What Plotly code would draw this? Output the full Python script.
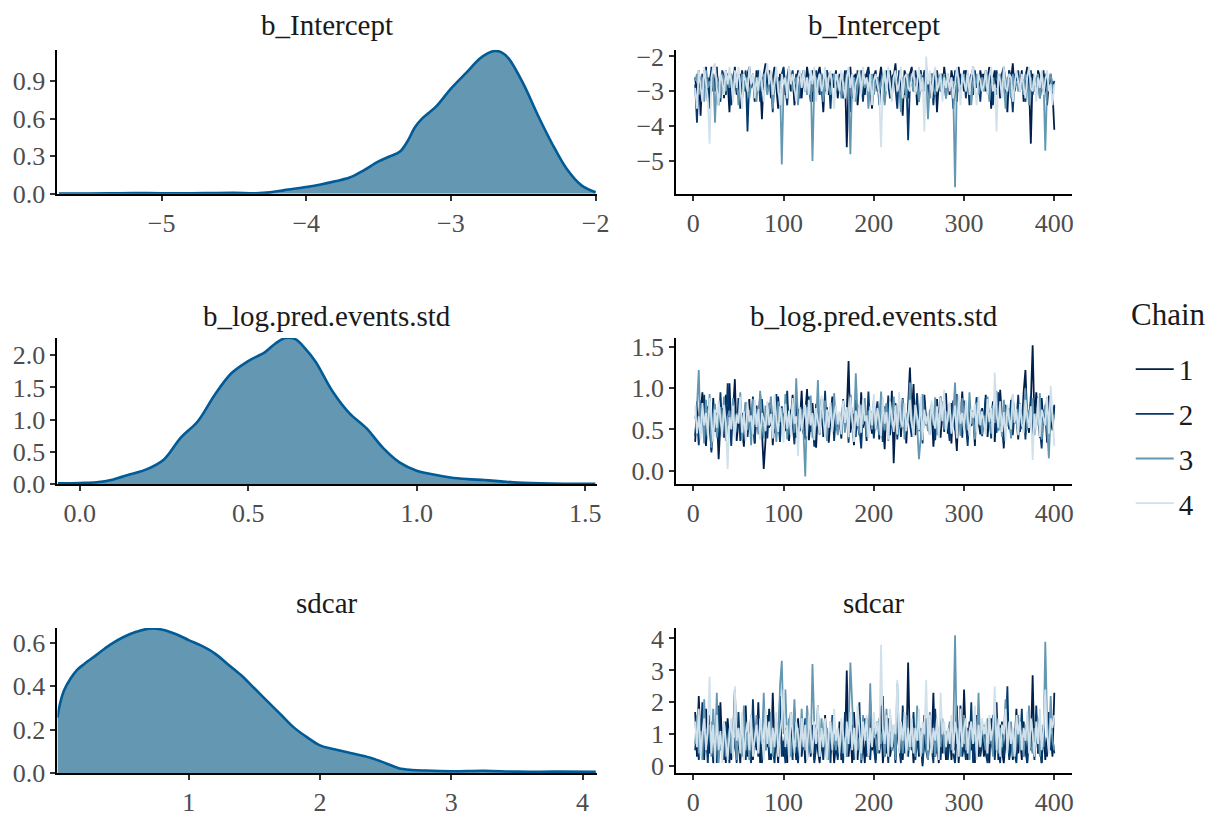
import plotly.graph_objects as go

W, H = 1216, 823
FONT = "Liberation Serif, Tinos, DejaVu Serif, serif"

iterations = list(range(2, 401, 2))
chain_names = ["1", "2", "3", "4"]
chain_colors = ["#011f4b", "#03396c", "#6497b1", "#d1e1ec"]
params = ["b_Intercept", "b_log.pred.events.std", "sdcar"]

# ---- density curves ----
dens_intercept_x = [-5.71, -5.5, -5.3, -5.1, -4.9, -4.7, -4.5, -4.35, -4.25, -4.15, -4.0, -3.9, -3.8, -3.7,
                    -3.6, -3.5, -3.42, -3.35, -3.3, -3.25, -3.2, -3.15, -3.1, -3.0, -2.9, -2.8, -2.75, -2.7,
                    -2.65, -2.6, -2.5, -2.4, -2.3, -2.2, -2.1, -2.0]
dens_intercept_y = [0.003, 0.003, 0.005, 0.006, 0.005, 0.006, 0.008, 0.005, 0.012, 0.03, 0.055, 0.075, 0.10,
                    0.13, 0.19, 0.26, 0.30, 0.34, 0.42, 0.53, 0.60, 0.65, 0.70, 0.84, 0.96, 1.08, 1.12, 1.14,
                    1.13, 1.08, 0.88, 0.63, 0.40, 0.20, 0.07, 0.013]

dens_pred_x = [-0.065, 0.0, 0.05, 0.1, 0.15, 0.2, 0.25, 0.3, 0.35, 0.4, 0.45, 0.5, 0.55, 0.58, 0.61, 0.64,
               0.67, 0.7, 0.75, 0.8, 0.85, 0.9, 0.95, 1.0, 1.05, 1.1, 1.15, 1.2, 1.25, 1.3, 1.4, 1.53]
dens_pred_y = [0.01, 0.015, 0.025, 0.07, 0.15, 0.23, 0.38, 0.72, 0.97, 1.38, 1.72, 1.91, 2.05, 2.18, 2.27,
               2.25, 2.10, 1.90, 1.44, 1.10, 0.87, 0.56, 0.33, 0.205, 0.145, 0.10, 0.075, 0.06, 0.04, 0.02,
               0.007, 0.003]

dens_sdcar_x = [0.0, 0.02, 0.05, 0.1, 0.15, 0.2, 0.3, 0.4, 0.5, 0.6, 0.7, 0.8, 0.9, 1.0, 1.1, 1.2, 1.3, 1.4,
                1.5, 1.6, 1.7, 1.8, 1.9, 2.0, 2.1, 2.2, 2.3, 2.4, 2.5, 2.6, 2.7, 2.8, 3.0, 3.25, 3.5, 3.8, 4.1]
dens_sdcar_y = [0.255, 0.32, 0.38, 0.435, 0.475, 0.50, 0.545, 0.59, 0.625, 0.65, 0.665, 0.66, 0.64, 0.612,
                0.585, 0.55, 0.50, 0.45, 0.39, 0.33, 0.27, 0.21, 0.165, 0.127, 0.11, 0.097, 0.083, 0.067,
                0.045, 0.022, 0.014, 0.011, 0.008, 0.01, 0.006, 0.006, 0.005]

# ---- trace values (every 2nd iteration) ----
intercept_chain1 = [
    -2.6, -3.1, -2.4, -3.7, -2.5, -2.9, -2.3, -3.3, -2.7, -2.4, -3.0, -2.6, -2.3, -3.4, -2.8, -2.5, -3.2, -2.4, -2.7, -3.6,
    -2.5, -2.9, -2.3, -3.1, -2.6, -3.5, -2.4, -2.8, -3.0, -2.5, -2.3, -2.9, -2.6, -3.3, -2.4, -3.0, -2.7, -3.8, -2.5, -2.2,
    -2.8, -2.4, -3.2, -2.6, -2.3, -2.9, -3.5, -2.5, -2.7, -2.4, -3.1, -2.6, -2.3, -3.0, -2.5, -3.4, -2.8, -2.4, -2.6, -3.2,
    -2.5, -2.9, -2.3, -2.7, -3.3, -2.4, -2.6, -3.0, -2.5, -2.3, -2.8, -3.6, -2.6, -2.4, -3.1, -2.7, -2.5, -2.9, -2.4, -3.2,
    -2.7, -2.5, -3.0, -2.4, -4.6, -2.8, -2.3, -3.2, -2.6, -2.5, -3.4, -2.7, -2.4, -2.9, -3.1, -2.5, -2.3, -2.8, -3.5, -2.6,
    -2.4, -3.0, -2.6, -2.3, -2.9, -3.3, -2.5, -2.7, -2.4, -3.1, -2.6, -2.2, -3.0, -2.5, -2.8, -3.7, -2.4, -2.6, -3.2, -2.5,
    -2.3, -2.9, -2.6, -3.4, -2.5, -2.4, -3.0, -2.7, -2.3, -2.8, -3.2, -2.5, -2.6, -2.4, -3.6, -2.7, -2.5, -3.0, -2.3, -2.8,
    -2.6, -3.1, -2.4, -2.7, -2.5, -3.3, -2.3, -2.8, -2.6, -3.0, -2.4, -2.5, -3.4, -2.7, -2.3, -2.9, -2.6, -3.1, -2.4, -2.8,
    -2.5, -3.0, -2.6, -2.3, -3.5, -2.7, -2.4, -2.9, -2.6, -3.2, -2.5, -2.3, -2.8, -3.6, -2.4, -2.7, -2.2, -3.0, -2.5, -2.6,
    -2.9, -2.4, -3.3, -2.6, -2.3, -2.8, -4.5, -2.5, -2.7, -3.1, -2.4, -2.6, -3.0, -2.8, -2.5, -3.4, -2.7, -2.6, -3.0, -4.1,
]
intercept_chain2 = [
    -2.8, -3.9, -2.5, -2.7, -3.2, -2.4, -2.9, -2.6, -3.5, -2.3, -2.7, -3.0, -2.5, -2.8, -3.3, -2.4, -2.6, -3.1, -2.5, -2.9,
    -3.4, -2.6, -2.4, -3.0, -2.7, -2.5, -3.2, -2.8, -2.4, -4.15, -2.6, -2.9, -2.5, -3.1, -2.7, -2.4, -3.3, -2.6, -2.8, -2.5,
    -3.0, -2.5, -2.7, -3.6, -2.4, -2.8, -2.6, -3.1, -2.5, -2.3, -2.9, -3.4, -2.6, -2.7, -2.4, -3.0, -2.5, -2.8, -3.2, -2.6,
    -2.4, -3.0, -2.7, -2.5, -2.9, -3.3, -2.6, -2.4, -2.8, -3.1, -2.5, -2.7, -3.0, -2.4, -2.6, -3.5, -2.5, -2.8, -2.6, -3.0,
    -2.5, -2.8, -3.2, -2.6, -2.4, -2.9, -3.6, -2.5, -2.7, -3.0, -2.4, -2.8, -2.6, -3.3, -2.5, -2.9, -2.4, -3.1, -2.7, -2.5,
    -2.9, -2.6, -3.4, -2.5, -2.7, -3.0, -2.4, -2.8, -3.2, -2.6, -2.5, -2.9, -3.5, -2.4, -2.7, -2.6, -3.1, -2.5, -4.4, -2.8,
    -2.6, -3.0, -2.4, -2.8, -3.3, -2.5, -2.7, -2.4, -3.1, -2.6, -2.9, -2.5, -3.4, -2.6, -2.4, -2.8, -3.0, -2.5, -2.7, -3.2,
    -2.5, -2.9, -2.6, -3.5, -2.4, -2.7, -3.0, -2.5, -2.8, -2.4, -3.2, -2.6, -2.7, -2.5, -3.1, -2.4, -2.9, -2.6, -3.3, -2.5,
    -2.8, -2.4, -3.0, -2.6, -2.5, -3.4, -2.7, -2.4, -2.9, -2.6, -3.1, -2.5, -2.7, -3.0, -2.4, -2.8, -3.6, -2.5, -2.7, -2.4,
    -3.0, -2.6, -2.8, -3.3, -2.5, -2.7, -2.4, -3.1, -2.6, -2.9, -2.5, -3.2, -2.7, -2.4, -3.0, -2.6, -2.8, -2.5, -2.9, -2.7,
]
intercept_chain3 = [
    -2.7, -2.5, -3.1, -2.8, -2.6, -3.3, -2.4, -2.9, -2.7, -3.0, -2.5, -3.9, -2.6, -2.8, -3.2, -2.5, -2.7, -3.0, -2.6, -2.9,
    -2.5, -3.1, -2.7, -2.6, -3.4, -2.8, -2.5, -3.0, -2.7, -2.6, -3.2, -2.8, -2.5, -2.9, -3.3, -2.6, -2.7, -3.0, -2.5, -2.8,
    -3.1, -2.7, -2.6, -3.5, -2.8, -2.5, -3.0, -2.7, -5.1, -2.9, -2.6, -3.2, -2.7, -2.5, -3.0, -2.8, -2.6, -3.4, -2.7, -2.5,
    -2.9, -2.6, -3.1, -2.7, -2.5, -5.0, -2.8, -2.6, -3.0, -2.7, -2.5, -3.3, -2.8, -2.6, -2.9, -3.1, -2.7, -2.5, -3.0, -2.8,
    -2.6, -3.2, -2.7, -2.9, -2.5, -3.0, -4.8, -2.7, -2.6, -3.3, -2.8, -2.5, -3.0, -2.7, -2.9, -2.6, -3.5, -2.7, -2.5, -3.1,
    -2.8, -2.6, -3.0, -2.7, -2.5, -3.4, -2.8, -2.6, -2.9, -3.1, -2.7, -2.5, -3.0, -2.8, -3.6, -2.6, -2.7, -3.2, -2.5, -2.9,
    -2.7, -3.0, -2.6, -2.8, -3.3, -2.5, -2.7, -3.0, -2.6, -3.8, -2.8, -2.5, -2.9, -3.1, -2.7, -2.6, -3.0, -2.8, -2.5, -3.2,
    -2.7, -2.9, -2.6, -3.0, -5.75, -2.8, -2.6, -3.2, -2.7, -2.5, -3.0, -2.8, -2.6, -3.4, -2.7, -2.9, -2.5, -3.1, -2.8, -2.6,
    -3.0, -2.7, -2.5, -3.3, -2.8, -2.6, -2.9, -3.1, -2.7, -2.5, -3.0, -2.8, -3.5, -2.6, -2.7, -3.2, -2.5, -2.9, -2.7, -3.0,
    -2.6, -2.8, -3.1, -2.5, -2.7, -3.4, -2.6, -2.9, -3.0, -2.7, -2.5, -3.2, -2.8, -2.6, -4.7, -2.9, -2.7, -2.5, -3.0, -2.8,
]
intercept_chain4 = [
    -2.9, -3.5, -2.4, -2.8, -3.3, -2.3, -2.7, -3.2, -4.5, -2.6, -2.3, -2.2, -2.9, -3.4, -2.5, -2.7, -3.1, -2.4, -2.8, -2.3,
    -2.7, -3.3, -2.4, -2.9, -2.3, -2.8, -3.5, -2.5, -2.7, -3.0, -2.3, -2.8, -2.5, -3.2, -2.6, -3.0, -2.4, -2.8, -3.3, -2.5,
    -2.2, -2.8, -2.4, -3.1, -2.7, -2.3, -2.9, -3.4, -2.5, -2.8, -2.6, -3.2, -2.3, -2.8, -2.5, -2.9, -3.3, -2.6, -2.4, -2.9,
    -2.4, -3.0, -2.6, -3.1, -2.4, -2.8, -2.3, -3.3, -2.7, -2.5, -3.0, -2.8, -2.3, -3.1, -2.6, -2.4, -2.9, -3.5, -2.5, -2.7,
    -3.0, -2.4, -2.8, -3.2, -2.6, -2.3, -2.9, -2.5, -3.3, -2.8, -2.6, -2.4, -3.1, -2.3, -2.8, -2.6, -3.0, -2.5, -3.4, -2.7,
    -2.5, -2.8, -3.1, -4.6, -2.7, -2.4, -3.0, -2.3, -2.9, -3.3, -2.6, -2.4, -3.0, -2.8, -2.3, -3.2, -2.6, -2.5, -2.9, -3.0,
    -2.6, -2.4, -3.1, -2.8, -2.3, -3.0, -2.6, -4.15, -2.0, -2.8, -2.4, -3.2, -2.6, -2.3, -3.0, -2.8, -2.5, -3.3, -2.6, -2.9,
    -2.5, -3.0, -2.6, -3.2, -2.8, -2.3, -2.7, -3.4, -2.5, -2.8, -3.0, -2.4, -3.1, -2.6, -2.3, -2.9, -3.4, -2.5, -2.7, -3.0,
    -2.8, -2.4, -3.1, -2.6, -2.3, -3.0, -2.8, -4.15, -2.5, -2.7, -3.2, -2.3, -2.9, -3.0, -2.5, -2.6, -3.3, -2.8, -2.4, -2.7,
    -3.0, -2.5, -2.8, -3.2, -2.6, -2.3, -2.9, -3.0, -2.5, -3.3, -2.6, -2.9, -2.4, -3.1, -2.7, -2.4, -3.0, -2.8, -3.4, -2.8,
]

pred_chain1 = [
    0.35, 0.84, 0.42, 0.66, 0.95, 0.52, 0.30, 0.78, 0.61, 0.25, 0.88, 0.47, 0.70, 0.14, 0.58, 0.76, 0.40, 0.92, 0.55, 1.06,
    0.48, 0.72, 1.11, 0.36, 0.64, 0.83, 0.50, 0.29, 0.74, 0.57, 0.87, 0.42, 0.68, 0.33, 0.79, 0.55, 0.93, 0.46, 0.02, 0.38,
    0.71, 0.52, 0.85, 0.31, 0.66, 0.44, 0.90, 0.57, 0.59, 0.69, 0.48, 0.80, 0.36, 0.63, 0.92, 0.51, 0.40, 0.75, 0.58, 0.97,
    0.45, 0.68, 0.99, 0.37, 0.60, 0.82, 0.49, 0.28, 0.73, 0.56, 0.87, 0.41, 0.65, 0.77, 0.34, 0.59, 0.90, 0.47, 0.70, 0.53,
    0.62, 0.39, 0.81, 0.55, 0.70, 1.33, 0.46, 0.64, 0.31, 0.86, 0.58, 0.43, 0.95, 0.52, 0.67, 0.36, 0.78, 0.60, 0.45, 0.84,
    0.50, 0.72, 0.38, 0.91, 0.57, 0.26, 0.80, 0.63, 0.44, 0.97, 0.09, 0.68, 0.54, 0.86, 0.41, 0.74, 0.59, 0.33, 0.88, 1.25,
    0.66, 1.05, 0.43, 0.71, 0.56, 0.82, 0.37, 0.92, 0.61, 0.68, 0.48, 0.75, 0.29, 0.64, 0.87, 0.52, 0.40, 0.79, 0.58, 0.94,
    0.45, 0.70, 0.33, 0.85, 0.57, 0.24, 0.78, 0.62, 0.96, 0.49, 0.67, 0.38, 0.81, 0.55, 0.73, 0.30, 0.89, 0.60, 0.44, 0.76,
    0.53, 0.92, 0.41, 0.68, 0.57, 0.84, 0.35, 0.71, 0.49, 0.98, 0.62, 0.27, 0.80, 0.55, 0.72, 0.43, 0.90, 0.58, 0.66, 0.38,
    0.74, 0.51, 0.95, 1.22, 0.62, 0.46, 0.83, 1.52, 0.57, 0.95, 0.68, 0.40, 0.88, 0.55, 0.72, 0.34, 0.91, 0.62, 0.49, 0.78,
]
pred_chain2 = [
    0.42, 0.68, 0.31, 0.85, 0.55, 0.92, 0.40, 0.74, 0.60, 0.22, 0.81, 0.49, 0.66, 0.37, 0.95, 0.53, 0.71, 0.44, 1.06, 0.58,
    0.30, 0.79, 0.62, 0.47, 0.88, 0.36, 0.70, 0.55, 0.83, 0.41, 0.64, 0.52, 0.90, 0.33, 0.76, 0.60, 0.45, 0.87, 0.56, 0.68,
    0.39, 0.82, 0.54, 0.71, 0.46, 0.93, 0.62, 0.35, 0.78, 0.50, 0.67, 0.97, 0.43, 0.74, 0.58, 0.32, 0.85, 0.61, 0.48, 0.79,
    0.56, 0.38, 0.72, 0.90, 0.47, 0.64, 0.29, 0.81, 0.59, 0.44, 0.76, 0.53, 0.97, 0.40, 0.68, 0.57, 0.83, 0.36, 0.70, 0.51,
    0.63, 0.45, 0.87, 0.52, 0.74, 0.34, 0.92, 0.58, 0.69, 0.41, 0.80, 0.55, 0.27, 0.77, 0.61, 0.48, 0.96, 0.53, 0.72, 0.39,
    0.67, 0.84, 0.46, 0.60, 0.35, 0.78, 0.54, 0.91, 0.43, 0.70, 0.57, 0.82, 0.38, 0.65, 0.50, 0.88, 0.60, 0.45, 0.73, 0.56,
    0.41, 0.79, 0.62, 0.94, 0.48, 0.71, 0.33, 0.86, 0.55, 0.68, 0.44, 0.80, 0.59, 0.37, 0.75, 0.52, 0.90, 0.63, 0.47, 0.69,
    0.58, 0.36, 0.82, 0.65, 0.49, 0.93, 0.56, 0.72, 0.40, 0.85, 0.61, 0.30, 0.77, 0.54, 0.68, 0.45, 0.89, 0.57, 0.70, 0.42,
    0.64, 0.88, 0.51, 0.73, 0.39, 0.81, 0.60, 0.46, 0.95, 0.55, 0.69, 0.34, 0.78, 0.62, 0.50, 0.86, 0.43, 0.71, 0.57, 0.92,
    0.47, 0.66, 0.80, 0.38, 0.73, 0.56, 0.91, 0.44, 0.68, 0.59, 0.85, 0.50, 0.27, 0.74, 0.61, 0.89, 0.46, 0.70, 0.55, 0.80,
]
pred_chain3 = [
    0.63, 0.78, 1.22, 0.45, 0.71, 0.33, 0.86, 0.54, 0.93, 0.28, 0.68, 0.81, 0.40, 0.59, 0.77, 0.48, 0.90, 0.36, 0.65, 0.73,
    0.52, 0.88, 0.41, 0.70, 0.58, 0.95, 0.37, 0.66, 0.83, 0.49, 0.74, 0.31, 0.87, 0.56, 0.69, 0.44, 0.97, 0.60, 0.39, 0.79,
    0.55, 0.72, 0.90, 0.42, 0.66, 0.35, 0.84, 0.59, 0.76, 0.47, 0.93, 0.38, 0.70, 0.58, 0.81, 0.46, 1.12, 0.62, 0.52, 0.75,
    0.48, -0.07, 0.77, 0.57, 0.91, 0.40, 0.68, 0.54, 1.10, 0.45, 0.72, 0.63, 0.85, 0.36, 0.66, 0.79, 0.50, 0.94, 0.58, 0.43,
    0.70, 0.59, 0.83, 0.46, 0.75, 0.39, 0.92, 0.61, 0.53, 1.18, 0.67, 0.44, 0.80, 0.56, 0.88, 0.41, 0.73, 0.62, 0.50, 0.86,
    0.57, 0.74, 0.43, 0.96, 0.63, 0.49, 0.82, 0.36, 0.71, 0.55, 0.90, 0.60, 0.44, 0.78, 0.52, 0.87, 0.38, 0.69, 0.58, 1.07,
    0.62, 0.45, 0.80, 0.54, 0.14, 0.40, 0.93, 0.58, 0.66, 0.48, 0.73, 0.77, 0.55, 0.89, 0.43, 0.70, 0.61, 0.84, 0.50, 0.72,
    0.59, 0.81, 0.47, 0.68, 1.07, 0.53, 0.76, 0.42, 0.88, 0.60, 0.71, 0.49, 0.95, 0.57, 0.65, 0.38, 0.83, 0.56, 0.74, 0.44,
    0.67, 0.52, 0.90, 0.61, 0.45, 0.79, 0.58, 0.97, 0.48, 0.70, 0.41, 0.86, 0.63, 0.54, 0.76, 0.39, 0.92, 0.60, 0.71, 0.47,
    0.82, 0.57, 0.68, 1.00, 0.49, 0.74, 0.61, 0.88, 0.43, 0.70, 0.55, 0.94, 0.38, 0.65, 0.80, 0.52, 0.15, 0.73, 0.59, 0.68,
]
pred_chain4 = [
    0.78, 0.45, 0.66, 0.38, 0.82, 0.55, 0.70, 0.42, 0.88, 0.60, 0.35, 0.74, 0.52, 0.85, 0.63, 0.41, 0.80, 0.58, 0.02, 0.65,
    0.50, 0.79, 0.40, 0.68, 0.57, 0.90, 0.46, 0.72, 0.36, 0.83, 0.59, 0.67, 0.44, 0.86, 0.53, 0.75, 0.38, 0.70, 0.61, 0.48,
    0.84, 0.55, 0.69, 0.39, 0.92, 0.60, 0.47, 0.78, 0.62, 0.34, 0.81, 0.51, 0.73, 0.43, 0.88, 0.57, 0.66, 0.18, 0.77, 0.50,
    0.64, 0.80, 0.42, 0.86, 0.55, 0.70, 0.37, 0.76, 0.60, 0.45, 0.91, 0.63, 0.40, 0.74, 0.52, 0.83, 0.47, 0.68, 0.79, 0.56,
    0.72, 0.44, 0.85, 0.58, 0.77, 0.41, 0.89, 0.62, 0.35, 0.73, 0.54, 0.81, 0.46, 0.87, 0.60, 0.67, 0.39, 0.78, 0.55, 0.93,
    0.50, 0.76, 0.63, 0.42, 0.88, 0.57, 0.71, 0.38, 0.84, 0.65, 0.47, 0.79, 0.44, 0.95, 0.60, 0.53, 0.82, 0.48, 0.69, 0.86,
    0.58, 0.41, 0.80, 0.66, 0.49, 0.90, 0.37, 0.74, 0.56, 0.70, 0.43, 0.85, 0.62, 0.51, 0.78, 0.40, 0.89, 0.60, 0.98, 0.47,
    0.66, 0.83, 0.45, 0.61, 0.79, 0.39, 0.92, 0.57, 0.70, 0.48, 0.86, 0.63, 0.42, 0.75, 0.64, 0.81, 0.46, 0.90, 0.55, 0.72,
    0.60, 0.44, 0.87, 0.59, 0.76, 0.40, 1.19, 0.68, 0.52, 0.84, 0.47, 0.71, 0.36, 0.80, 0.62, 0.50, 0.93, 0.58, 0.75, 0.43,
    0.81, 0.57, 0.46, 0.86, 0.66, 0.52, 0.78, 0.13, 0.69, 0.49, 0.88, 0.41, 0.74, 0.63, 0.55, 0.90, 0.45, 1.03, 0.70, 0.30,
]

sdcar_chain1 = [
    1.7, 0.3, 2.2, 0.6, 1.1, 0.2, 1.8, 0.9, 0.4, 1.4, 0.1, 0.7, 1.2, 0.3, 2.0, 0.5, 0.9, 0.1, 1.5, 0.6,
    0.2, 1.0, 2.4, 0.4, 0.8, 0.1, 1.3, 0.6, 1.9, 0.3, 0.7, 1.6, 0.2, 1.1, 0.5, 2.0, 0.1, 0.9, 0.4, 1.2,
    0.6, 1.8, 0.2, 2.3, 0.5, 0.9, 0.1, 1.4, 0.7, 0.3, 1.2, 0.1, 0.8, 1.7, 0.4, 1.0, 0.2, 1.5, 0.6, 0.3,
    1.1, 0.1, 0.7, 1.5, 0.3, 0.9, 0.2, 1.3, 0.5, 0.1, 1.0, 0.6, 1.6, 0.2, 0.8, 0.4, 1.2, 0.1, 0.7, 0.3,
    1.4, 0.2, 0.9, 0.5, 3.0, 0.3, 1.1, 0.1, 1.7, 0.6, 0.2, 1.3, 0.4, 0.8, 0.1, 1.5, 0.3, 2.0, 0.5, 0.9,
    0.2, 1.2, 0.6, 1.9, 0.1, 0.8, 0.4, 1.5, 0.3, 0.7, 1.1, 0.1, 1.7, 0.5, 0.9, 0.2, 1.3, 0.4, 3.25, 0.6,
    1.0, 0.1, 0.7, 1.4, 0.3, 0.9, 0.0, 1.6, 0.5, 0.2, 1.2, 0.6, 2.3, 0.3, 0.8, 0.1, 1.5, 0.4, 1.0, 0.2,
    0.6, 1.3, 0.2, 0.9, 0.5, 1.9, 0.1, 1.1, 0.4, 2.4, 0.7, 0.2, 1.4, 0.5, 0.9, 0.1, 1.6, 0.3, 0.8, 1.2,
    0.3, 1.0, 0.6, 0.1, 1.5, 0.4, 0.9, 2.0, 0.2, 1.3, 0.5, 0.1, 0.8, 1.7, 0.3, 1.1, 0.2, 0.7, 1.8, 0.4,
    0.9, 0.2, 1.4, 0.5, 0.1, 1.1, 0.6, 2.85, 0.3, 1.6, 0.4, 0.8, 0.1, 1.3, 0.2, 0.9, 0.5, 1.0, 0.3, 2.3,
]
sdcar_chain2 = [
    0.5, 1.3, 0.2, 0.8, 2.0, 0.4, 1.1, 0.1, 1.6, 0.6, 0.3, 1.0, 0.1, 1.9, 0.5, 0.8, 0.2, 1.4, 0.7, 0.1,
    1.2, 0.4, 0.9, 0.1, 1.7, 0.3, 0.7, 1.5, 0.2, 1.1, 0.5, 0.1, 2.1, 0.6, 0.9, 0.3, 1.3, 0.1, 0.8, 0.5,
    1.6, 0.2, 1.0, 0.6, 0.1, 1.4, 0.4, 2.2, 0.3, 0.8, 0.1, 1.2, 0.5, 0.9, 0.2, 1.8, 0.6, 0.1, 1.1, 0.4,
    0.7, 1.5, 0.2, 0.9, 0.4, 1.3, 0.1, 0.6, 1.9, 0.3, 0.8, 0.2, 1.4, 0.5, 1.0, 0.1, 1.6, 0.4, 0.7, 0.2,
    1.2, 0.5, 0.1, 1.7, 0.3, 0.9, 0.6, 1.3, 0.2, 1.0, 0.4, 2.0, 0.1, 0.7, 1.5, 0.3, 0.9, 0.2, 1.2, 0.6,
    0.1, 1.4, 0.4, 0.8, 2.2, 0.3, 1.0, 0.1, 1.6, 0.5, 0.9, 0.2, 1.3, 0.6, 0.1, 1.9, 0.4, 0.8, 0.3, 1.1,
    0.5, 1.7, 0.2, 0.9, 0.4, 1.2, 0.1, 0.7, 1.5, 0.3, 1.0, 0.6, 0.1, 1.8, 0.4, 0.8, 0.2, 1.3, 0.6, 1.0,
    0.2, 0.8, 1.4, 0.4, 0.1, 1.1, 0.6, 1.9, 0.3, 0.7, 0.2, 1.2, 0.5, 2.0, 0.1, 0.9, 0.4, 1.5, 0.3, 0.7,
    1.3, 0.4, 0.1, 0.9, 0.6, 1.6, 0.2, 1.0, 0.5, 0.1, 1.4, 0.3, 0.8, 2.5, 0.2, 0.7, 1.1, 0.4, 0.1, 1.2,
    0.6, 1.8, 0.3, 0.9, 0.1, 1.4, 0.5, 1.0, 0.2, 1.9, 0.4, 0.7, 0.1, 1.2, 0.6, 0.3, 1.7, 0.5, 0.9, 0.4,
]
sdcar_chain3 = [
    0.7, 1.6, 0.4, 1.1, 0.2, 2.1, 0.6, 0.9, 1.3, 0.3, 1.8, 0.5, 2.3, 0.1, 1.0, 0.6, 1.4, 0.3, 0.8, 1.2,
    0.4, 0.9, 1.5, 0.2, 1.2, 0.7, 0.3, 1.9, 0.5, 1.0, 0.2, 1.3, 0.6, 0.8, 1.6, 0.4, 1.1, 0.7, 2.3, 0.5,
    1.2, 0.6, 1.7, 0.3, 0.9, 1.4, 0.5, 2.5, 3.3, 1.0, 2.4, 0.7, 1.5, 0.3, 0.9, 2.1, 0.6, 1.2, 0.4, 1.8,
    0.8, 0.5, 1.9, 1.1, 0.4, 3.2, 1.3, 0.7, 1.0, 0.3, 1.5, 0.6, 0.9, 1.2, 0.2, 1.4, 0.7, 1.0, 0.5, 1.1,
    0.6, 1.3, 0.4, 0.9, 0.3, 1.1, 3.25, 2.1, 0.7, 1.2, 0.5, 0.9, 0.2, 1.6, 0.8, 1.0, 0.4, 2.6, 0.7, 1.2,
    0.9, 0.4, 1.5, 0.7, 1.1, 0.3, 1.8, 0.6, 1.0, 0.5, 1.3, 0.2, 2.6, 0.8, 1.2, 0.4, 0.9, 1.6, 0.5, 1.0,
    0.6, 1.2, 0.3, 1.9, 0.8, 1.1, 0.4, 1.4, 0.7, 0.2, 1.7, 0.5, 1.0, 0.3, 1.3, 0.9, 0.6, 1.5, 0.4, 1.1,
    0.8, 1.4, 0.5, 1.0, 4.1, 0.7, 1.2, 0.3, 0.9, 1.6, 0.5, 1.1, 0.2, 1.3, 0.7, 1.0, 0.4, 2.3, 0.6, 1.2,
    0.9, 0.5, 1.5, 0.7, 1.1, 0.3, 1.8, 0.8, 0.4, 1.2, 0.6, 1.0, 2.1, 0.5, 0.9, 1.4, 0.3, 1.1, 0.7, 1.6,
    0.5, 1.0, 0.3, 1.3, 0.8, 1.9, 0.6, 0.4, 1.2, 0.7, 1.5, 0.3, 1.0, 0.6, 3.9, 1.4, 0.5, 2.2, 0.8, 0.5,
]
sdcar_chain4 = [
    1.4, 0.6, 1.8, 0.3, 1.0, 1.5, 0.5, 1.2, 2.8, 0.4, 1.3, 0.1, 1.6, 0.5, 1.1, 0.1, 1.4, 0.7, 0.2, 1.0,
    1.5, 0.3, 2.5, 0.8, 1.2, 0.4, 1.7, 0.2, 1.0, 1.4, 0.5, 1.6, 0.3, 0.9, 1.3, 0.4, 1.5, 1.0, 0.2, 1.8,
    0.7, 1.4, 0.4, 1.2, 0.6, 1.7, 0.3, 1.0, 1.5, 2.4, 0.6, 1.3, 0.2, 1.7, 0.9, 0.4, 1.4, 1.0, 0.3, 1.5,
    0.6, 1.3, 0.2, 1.6, 1.0, 0.4, 1.4, 0.7, 1.9, 0.3, 1.2, 0.6, 1.5, 0.2, 1.0, 1.4, 0.5, 1.8, 0.8, 1.2,
    0.4, 1.5, 1.0, 0.3, 1.4, 0.7, 1.7, 0.5, 1.2, 0.2, 1.9, 1.0, 0.4, 1.4, 0.8, 1.6, 0.3, 1.2, 0.6, 1.7,
    1.0, 1.4, 0.5, 3.8, 1.2, 0.7, 1.6, 0.3, 1.8, 0.6, 1.3, 1.0, 2.7, 0.4, 1.4, 0.8, 1.7, 0.3, 1.2, 0.6,
    1.5, 0.4, 1.2, 0.8, 1.8, 0.3, 1.4, 1.0, 2.7, 0.5, 1.6, 0.4, 1.2, 0.8, 1.5, 0.2, 2.3, 1.0, 1.4, 0.6,
    1.2, 0.7, 1.6, 0.4, 1.4, 1.0, 0.3, 1.8, 0.6, 1.2, 1.5, 0.4, 1.1, 1.4, 0.7, 1.9, 0.2, 1.3, 0.6, 1.5,
    1.0, 1.4, 0.4, 1.6, 0.8, 1.2, 2.5, 0.5, 1.5, 0.3, 1.3, 1.0, 1.8, 0.4, 1.4, 0.7, 1.2, 0.3, 1.6, 1.0,
    1.4, 0.5, 1.2, 0.8, 1.7, 0.4, 1.5, 1.0, 0.3, 1.4, 0.7, 1.8, 0.5, 1.2, 2.4, 1.0, 0.4, 1.5, 1.2, 1.6,
]

densities = [(dens_intercept_x, dens_intercept_y), (dens_pred_x, dens_pred_y), (dens_sdcar_x, dens_sdcar_y)]
traces = [
    [intercept_chain1, intercept_chain2, intercept_chain3, intercept_chain4],
    [pred_chain1, pred_chain2, pred_chain3, pred_chain4],
    [sdcar_chain1, sdcar_chain2, sdcar_chain3, sdcar_chain4],
]

# ---- layout geometry (pixels) ----
left_px = (58, 603)
right_px = (683, 1083)
rows_px = [(44, 192), (340, 490), (638, 787)]
title_y_px = [18, 318, 612]

dens_xrange = [[-5.72, -1.99], [-0.066, 1.535], [0.0, 4.11]]
dens_xticks = [[-5, -4, -3, -2], [0.0, 0.5, 1.0, 1.5], [1, 2, 3, 4]]
dens_xfmt = ["d", ".1f", "d"]
dens_yrange = [[0, 1.15], [0, 2.27], [0, 0.668]]
dens_yticks = [[0.0, 0.3, 0.6, 0.9], [0.0, 0.5, 1.0, 1.5, 2.0], [0.0, 0.2, 0.4, 0.6]]

trace_xrange = [-18.95, 419.95]
trace_xticks = [0, 100, 200, 300, 400]
trace_yrange = [[-5.94, -1.81], [-0.16, 1.61], [-0.21, 4.33]]
trace_yticks = [[-5, -4, -3, -2], [0.0, 0.5, 1.0, 1.5], [0, 1, 2, 3, 4]]
trace_yfmt = ["d", ".1f", "d"]


def xdom(p):
    return [p[0] / W, p[1] / W]


def ydom(p):
    return [1 - p[1] / H, 1 - p[0] / H]


axis_style = dict(
    showline=True, linecolor="black", linewidth=2, ticks="outside", ticklen=5, tickwidth=1.5,
    tickcolor="#333333", tickfont=dict(family=FONT, size=26, color="#4d4d4d"),
    showgrid=False, zeroline=False, fixedrange=True,
)

fig = go.Figure()
layout = {}
annotations = []

for r in range(3):
    ia = 2 * r + 1
    ib = 2 * r + 2
    sa = "" if ia == 1 else str(ia)
    sb = str(ib)
    dx, dy = densities[r]
    fig.add_trace(go.Scatter(
        x=dx, y=dy, mode="lines", fill="tozeroy", fillcolor="#6497b1",
        line=dict(color="#005b96", width=2.6, shape="spline", smoothing=1.0),
        xaxis="x" + sa, yaxis="y" + sa, showlegend=False, hoverinfo="skip",
    ))
    for c in range(4):
        fig.add_trace(go.Scatter(
            x=iterations, y=traces[r][c], mode="lines",
            line=dict(color=chain_colors[c], width=1.8),
            name=chain_names[c], legendgroup=chain_names[c], showlegend=(r == 0),
            xaxis="x" + sb, yaxis="y" + sb,
        ))

    layout["xaxis" + sa] = dict(axis_style, domain=xdom(left_px), anchor="y" + sa, range=dens_xrange[r],
                                tickvals=dens_xticks[r], tickformat=dens_xfmt[r])
    layout["yaxis" + sa] = dict(axis_style, domain=ydom(rows_px[r]), anchor="x" + sa, range=dens_yrange[r],
                                tickvals=dens_yticks[r], tickformat=".1f")
    layout["xaxis" + sb] = dict(axis_style, domain=xdom(right_px), anchor="y" + sb, range=trace_xrange,
                                tickvals=trace_xticks, tickformat="d")
    layout["yaxis" + sb] = dict(axis_style, domain=ydom(rows_px[r]), anchor="x" + sb, range=trace_yrange[r],
                                tickvals=trace_yticks[r], tickformat=trace_yfmt[r])

    for px in (left_px, right_px):
        annotations.append(dict(
            text=params[r], x=(px[0] + px[1]) / 2 / W, y=1 - title_y_px[r] / H, xref="paper", yref="paper",
            xanchor="center", yanchor="middle", showarrow=False,
            font=dict(family=FONT, size=29, color="#1a1a1a"),
        ))

annotations.append(dict(
    text="Chain", x=1140 / W, y=1 - 316 / H, xref="paper", yref="paper",
    xanchor="left", yanchor="middle", showarrow=False,
    font=dict(family=FONT, size=31, color="#1a1a1a"),
))

fig.update_layout(
    width=W, height=H, margin=dict(l=0, r=0, t=0, b=0),
    paper_bgcolor="white", plot_bgcolor="white",
    annotations=annotations,
    legend=dict(
        font=dict(family=FONT, size=29, color="#1a1a1a"),
        x=1142 / W, y=1 - 346 / H, xanchor="left", yanchor="top",
        tracegroupgap=4, itemwidth=38, bgcolor="rgba(0,0,0,0)",
    ),
    **layout,
)

fig.write_html("out.html", config={"displayModeBar": False},
               post_script="document.body.style.margin='0px';")
